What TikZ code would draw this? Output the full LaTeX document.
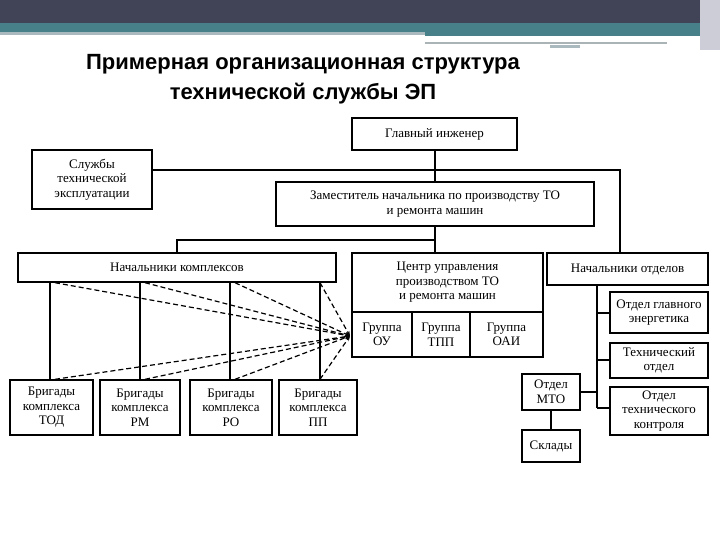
\documentclass[tikz,border=0pt]{standalone}
\usepackage{fontspec}
\setmainfont{Liberation Serif}
\newfontfamily\ttlfont{Liberation Sans}
\usetikzlibrary{arrows.meta}
\begin{document}
\begin{tikzpicture}[x=1pt,y=-1pt,
  bx/.style={draw,line width=1.4pt,align=center,inner sep=0pt,font=\fontsize{13}{14.5}\selectfont},
  ln/.style={line width=1.3pt},
  ds/.style={line width=1.2pt,dash pattern=on 5pt off 3pt,-{Stealth[length=5pt]}}]
\useasboundingbox (0,0) rectangle (720,540);
% header
\fill[fill={rgb,255:red,64;green,68;blue,86}] (0,0) rectangle (720,23);
\fill[fill={rgb,255:red,72;green,128;blue,138}] (0,23) rectangle (700,32);
\fill[fill={rgb,255:red,170;green,185;blue,190}] (0,32) rectangle (425,35);
\fill[fill={rgb,255:red,72;green,128;blue,138}] (425,32) rectangle (700,36);
\fill[fill={rgb,255:red,170;green,180;blue,182}] (425,42) rectangle (667,44);
\fill[fill={rgb,255:red,170;green,185;blue,190}] (550,45) rectangle (580,48);
\fill[fill={rgb,255:red,205;green,205;blue,215}] (700,0) rectangle (720,50);
% title
\node[font=\ttlfont\bfseries\fontsize{22}{30}\selectfont,align=center] (title) at (303,79)
  {Примерная организационная структура\\технической службы ЭП};
% boxes
\node[bx,minimum width=165pt,minimum height=32pt] (gi) at (434.5,134) {Главный инженер};
\node[bx,minimum width=120pt,minimum height=59pt] (sl) at (92,179.5) {Службы\\технической\\эксплуатации};
\node[bx,minimum width=318pt,minimum height=44pt] (zam) at (435,204) {Заместитель начальника по производству ТО\\и ремонта машин};
\node[bx,minimum width=318pt,minimum height=29pt] (nk) at (177,267.5) {Начальники комплексов};
\node[bx,minimum width=191pt,minimum height=59pt] (cu) at (447.5,282.5) {Центр управления\\производством ТО\\и ремонта машин};
\node[bx,minimum width=60pt,minimum height=45pt] (g1) at (382,334.5) {Группа\\ОУ};
\node[bx,minimum width=58pt,minimum height=45pt] (g2) at (441,334.5) {Группа\\ТПП};
\node[bx,minimum width=73pt,minimum height=45pt] (g3) at (506.5,334.5) {Группа\\ОАИ};
\node[bx,minimum width=161pt,minimum height=32pt] (no) at (627.5,269) {Начальники отделов};
\node[bx,minimum width=98pt,minimum height=41pt] (oge) at (659,312.5) {Отдел главного\\энергетика};
\node[bx,minimum width=98pt,minimum height=35pt] (to) at (659,360.5) {Технический\\отдел};
\node[bx,minimum width=98pt,minimum height=48pt] (otk) at (659,411) {Отдел\\технического\\контроля};
\node[bx,minimum width=58pt,minimum height=36pt] (mto) at (551,392) {Отдел\\МТО};
\node[bx,minimum width=58pt,minimum height=32pt] (sk) at (551,446) {Склады};
\node[bx,minimum width=83pt,minimum height=55pt] (b1) at (51.5,407.5) {Бригады\\комплекса\\ТОД};
\node[bx,minimum width=80pt,minimum height=55pt] (b2) at (140,407.5) {Бригады\\комплекса\\РМ};
\node[bx,minimum width=82pt,minimum height=55pt] (b3) at (231,407.5) {Бригады\\комплекса\\РО};
\node[bx,minimum width=78pt,minimum height=55pt] (b4) at (318,407.5) {Бригады\\комплекса\\ПП};
% solid connectors
\coordinate (hr) at (620,170);
\draw[ln] (sl.east |- hr) -- (hr) -- (hr |- no.north);
\draw[ln] (gi.south -| 435,0) -- (zam.north -| 435,0);
\draw[ln] (zam.south -| 435,0) -- (cu.north -| 435,0);
\draw[ln] (435,240) -| (nk.north -| 177,0);
\foreach \b/\x in {b1/50,b2/140,b3/230,b4/320}
  \draw[ln] (nk.south -| \x,0) -- (\b.north -| \x,0);
\coordinate (tr) at (597,285);
\draw[ln] (no.south -| tr) -- (597,408);
\draw[ln] (597,313) -- (oge.west |- 0,313);
\draw[ln] (597,360) -- (to.west |- 0,360);
\draw[ln] (597,408) -- (otk.west |- 0,408);
\draw[ln] (mto.east) -- (597,392);
\draw[ln] (mto) -- (sk);
% dashed arrows
\coordinate (hub) at (350,336);
\foreach \x in {55,145,235,320}{
  \draw[ds] (nk.south -| \x,0) -- (hub);
  \draw[ds] (b1.north -| \x,0) -- (hub);}
\end{tikzpicture}
\end{document}
